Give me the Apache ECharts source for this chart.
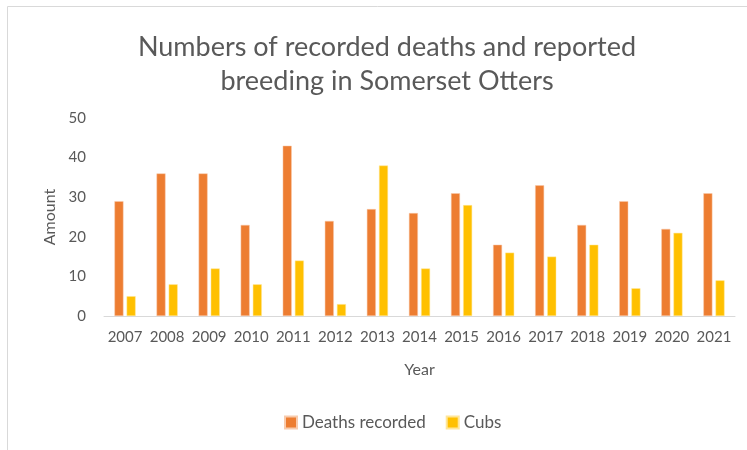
<!DOCTYPE html>
<html><head><meta charset="utf-8">
<script src="https://cdn.jsdelivr.net/npm/echarts@6/dist/echarts.min.js"></script>
<style>html,body{margin:0;padding:0;background:#fff}#c{width:747px;height:450px}</style>
</head><body><div id="c"></div>
<script>
const years = ['2007','2008','2009','2010','2011','2012','2013','2014','2015','2016','2017','2018','2019','2020','2021'];
const deaths = [29,36,36,23,43,24,27,26,31,18,33,23,29,22,31];
const cubs = [5,8,12,8,14,3,38,12,28,16,15,18,7,21,9];
const yTicks = [0,10,20,30,40,50];

const FONT = 'Lato';
const chart = echarts.init(document.getElementById('c'));
chart.setOption({
  animation: false,
  textStyle: {fontFamily: FONT},
  graphic: [{type:'rect', shape:{x:7.5,y:6.5,width:760,height:460}, style:{fill:'none', stroke:'#d9d9d9', lineWidth:1}, silent:true}],
  title: {
    text: 'Numbers of recorded deaths and reported\nbreeding in Somerset Otters',
    left: 382, top: 25, textAlign: 'center',
    textStyle: {fontFamily: FONT, fontSize: 27, fontWeight: 'normal', color: '#595959', lineHeight: 34}
  },
  legend: {
    data: ['Deaths recorded','Cubs'],
    bottom: 14, left: 279,
    itemWidth: 12, itemHeight: 12, itemGap: 20,
    icon: 'rect',
    textStyle: {fontFamily: FONT, fontSize: 17, color: '#595959'}
  },
  grid: {left: 104, right: 12, top: 118, bottom: 134},
  xAxis: {
    type: 'category', data: years,
    name: 'Year', nameLocation: 'middle', nameGap: 46,
    nameTextStyle: {fontFamily: FONT, fontSize: 16, color: '#595959'},
    axisLine: {lineStyle: {color: '#d9d9d9', width: 1}},
    axisTick: {show: false},
    axisLabel: {fontFamily: FONT, fontSize: 15, color: '#595959', margin: 14, interval: 0}
  },
  yAxis: {
    type: 'value', min: 0, max: 50, interval: 10,
    name: 'Amount', nameLocation: 'middle', nameGap: 46, nameRotate: 90,
    nameTextStyle: {fontFamily: FONT, fontSize: 16, color: '#595959'},
    axisLine: {show: false}, axisTick: {show: false},
    splitLine: {show: false},
    axisLabel: {fontFamily: FONT, fontSize: 15, color: '#595959', margin: 18,
      formatter: v => yTicks.includes(v) ? String(v) : ''}
  },
  series: [
    {name: 'Deaths recorded', type: 'bar', data: deaths, barWidth: 9, barGap: '35%',
     itemStyle: {color: '#ED7D31', borderColor: '#f8cbad', borderWidth: 0.5}},
    {name: 'Cubs', type: 'bar', data: cubs, barWidth: 9,
     itemStyle: {color: '#FFC000', borderColor: '#ffe699', borderWidth: 0.5}}
  ]
});
</script></body></html>
